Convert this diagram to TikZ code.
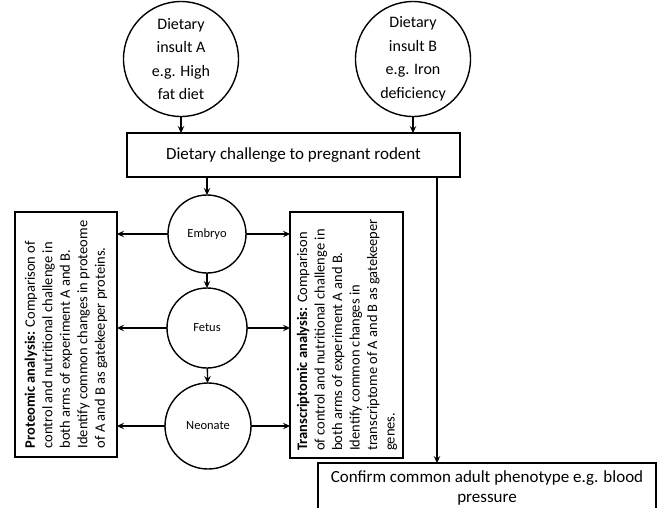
\documentclass[tikz,border=0pt]{standalone}
\usepackage{fontspec}
\setmainfont{Carlito}
\usetikzlibrary{arrows.meta}
\begin{document}
\begin{tikzpicture}[x=1pt,y=-1pt,
  every node/.style={inner sep=0pt,outer sep=0pt},
  ln/.style={line width=1.4pt},
  arr/.style={ln,-{Stealth[length=7pt,width=6.5pt,inset=2.5pt]}},
  bigcirc/.style={circle,draw,ln,minimum size=115pt,align=center,
     font=\fontsize{16}{23.5}\selectfont},
  stagecirc/.style={circle,draw,ln,align=center,
     font=\fontsize{12.5}{14}\selectfont},
  sidebox/.style={draw,ln},
  sidetext/.style={rotate=90,align=left,font=\fontsize{14.5}{17.5}\selectfont}
]
\useasboundingbox (0,0) rectangle (658,507);

\node[bigcirc] (cA) at (181,59) {Dietary\\insult A\\e.g. High\\fat diet};
\node[bigcirc] (cB) at (413,59) {Dietary\\insult B\\e.g. Iron\\deficiency};

\node[draw,ln,minimum width=333pt,minimum height=44pt,
  font=\fontsize{17}{20}\selectfont] (ch) at (293.5,155)
  {Dietary challenge to pregnant rodent};

\node[stagecirc,minimum size=78pt] (emb) at (207,234) {Embryo};
\node[stagecirc,minimum size=80pt] (fet) at (207,328) {Fetus};
\node[stagecirc,minimum size=86pt] (neo) at (208,426) {Neonate};

\node[sidebox,minimum width=102pt,minimum height=245pt] (pl) at (66,334.5) {};
\node[sidetext] (plt) at (66,334.5) {\textbf{Proteomic analysis:} Comparison of\\
control and nutritional challenge in\\
both arms of experiment A and B.\\
Identify common changes in proteome\\
of A and B as gatekeeper proteins.};

\node[sidebox,minimum width=113pt,minimum height=246pt] (tr) at (346.5,335) {};
\node[sidetext] (trt) at (347,335) {\textbf{Transcriptomic analysis:} Comparison\\
of control and nutritional challenge in\\
both arms of experiment A and B.\\
Identify common changes in\\
transcriptome of A and B as gatekeeper\\
genes.\hspace*{160pt}};

\draw[ln] (318,540) -- (318,463) -- (656,463) -- (656,540);
\node[align=center,font=\fontsize{17}{19.5}\selectfont] (conf) at (487,488)
  {Confirm common adult phenotype e.g. blood\\pressure};
\coordinate (ctop) at (437,463);

\draw[arr] (cA.south) -- (cA.south |- ch.north);
\draw[arr] (cB.south) -- (cB.south |- ch.north);
\draw[arr] (emb.north |- ch.south) -- (emb.north);
\draw[arr] (emb) -- (fet);
\draw[arr] (fet) -- (neo);
\draw[arr] (ctop |- ch.south) -- (ctop);

\draw[arr] (emb.west) -- (emb.west -| pl.east);
\draw[arr] (fet.west) -- (fet.west -| pl.east);
\draw[arr] (neo.west) -- (neo.west -| pl.east);
\draw[arr] (emb.east) -- (emb.east -| tr.west);
\draw[arr] (fet.east) -- (fet.east -| tr.west);
\draw[arr] (neo.east) -- (neo.east -| tr.west);
\end{tikzpicture}
\end{document}
